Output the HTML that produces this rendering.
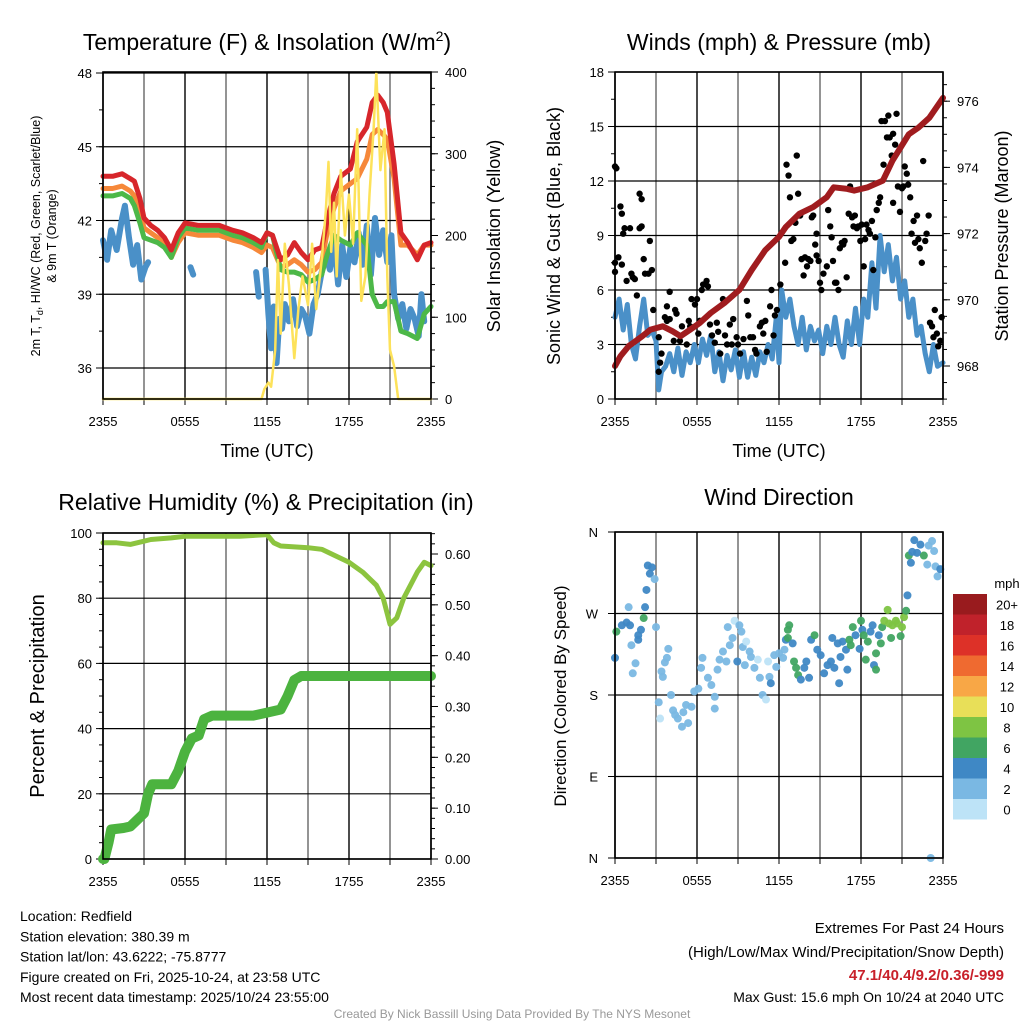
<!DOCTYPE html>
<html><head><meta charset="utf-8"><style>
html,body{margin:0;padding:0;background:#fff;}
svg{display:block;font-family:"Liberation Sans",Arial,sans-serif;}
</style></head><body>
<svg id="fig" width="1024" height="1024" viewBox="0 0 1024 1024" xmlns="http://www.w3.org/2000/svg">
<rect x="0" y="0" width="1024" height="1024" fill="#fff"/>
</svg>
<script>
// ---------------- DATA ----------------
const tempT   = [0,0.7,1.4,2.0,2.3,2.7,3.0,3.5,4.0,4.5,5.0,5.5,6.0,7.0,8.5,9.5,10.2,11.0,11.6,12.0,12.4,13.0,13.5,14.0,14.5,15.0,15.5,16.0,16.4,16.9,17.4,18.1,18.6,19.3,19.7,20.1,20.5,20.8,21.3,21.8,22.3,23.0,23.5,24];
const redT    = [43.8,43.8,43.9,43.7,43.6,42.9,42.1,41.8,41.6,41.3,40.8,41.5,41.9,41.8,41.8,41.6,41.5,41.3,41.1,41.5,41.4,40.4,40.6,41.1,40.7,40.4,40.8,40.9,42.0,43.1,43.8,44.1,45.2,45.8,46.8,47.1,46.8,46.4,44.3,41.5,41.1,40.4,41.0,41.1];
const orangeT = [43.3,43.3,43.4,43.2,43.0,42.4,41.7,41.5,41.3,41.0,40.5,41.1,41.5,41.4,41.4,41.2,41.1,40.9,40.7,41.0,40.9,40.1,40.2,40.4,40.2,39.9,40.0,40.3,41.5,42.5,43.2,43.5,43.7,44.5,45.5,45.7,45.5,45.3,43.7,41.0,41.0,40.6,41.0,41.0];
const greenT  = [43.0,43.0,43.1,42.9,42.6,41.9,41.3,41.2,41.1,40.9,40.5,41.3,41.7,41.6,41.6,41.4,41.3,41.1,40.9,41.5,41.4,40.0,39.9,39.9,39.8,39.5,39.6,39.8,40.6,41.4,41.2,41.0,41.5,41.0,39.0,38.5,38.5,38.7,38.7,37.5,37.4,37.2,38.2,38.5];
const dewT    = [0,0.3,0.6,1.0,1.4,1.6,1.9,2.2,2.5,2.8,3.1,3.3,null,6.4,6.6,null,11.2,11.4,null,11.9,12.1,12.3,12.5,12.7,12.9,13.1,13.3,13.6,13.9,14.2,14.5,14.8,15.1,15.4,15.7,16.0,16.3,16.6,16.9,17.2,17.5,17.8,18.1,18.4,18.7,19.0,19.3,19.6,19.9,20.2,20.5,20.8,21.1,21.3,21.6,21.9,22.2,22.5,22.8,23.1,23.3,23.5];
const dewV    = [41.2,40.4,41.6,40.8,42.1,42.6,41.3,40.2,41.0,39.6,40.1,40.3,null,40.1,39.8,null,39.9,38.9,null,40.0,38.2,36.8,38.5,36.2,38.0,37.6,38.6,37.9,38.8,37.7,38.4,38.1,37.4,38.6,39.0,39.9,40.6,40.0,41.2,39.4,41.0,39.7,40.9,40.3,41.5,40.2,41.8,39.8,42.1,40.6,41.6,40.3,41.4,39.0,38.0,38.6,37.6,38.4,38.0,37.3,39.0,37.9];
const solT    = [0,11.6,11.8,12.1,12.3,12.6,12.8,13.0,13.3,13.6,14.0,14.3,14.6,15.0,15.3,15.6,16.0,16.3,16.5,16.7,16.9,17.1,17.4,17.7,18.0,18.3,18.6,18.9,19.2,19.5,19.8,20.0,20.3,20.6,20.8,21.0,21.3,21.6,24];
const solV    = [0,0,12,20,15,60,170,80,190,140,50,110,150,115,190,110,170,230,290,180,240,150,280,200,250,190,330,120,150,250,330,400,280,330,150,60,40,0,0];
const windT   = [0,0.3,0.6,0.9,1.2,1.5,1.8,2.1,2.4,2.7,3.0,3.2,3.4,3.7,4.0,4.3,4.6,4.9,5.2,5.5,5.8,6.1,6.4,6.7,7.0,7.3,7.6,7.9,8.2,8.5,8.8,9.1,9.4,9.7,10.0,10.3,10.6,10.9,11.2,11.5,11.8,12.0,12.2,12.5,12.8,13.1,13.4,13.7,14.0,14.3,14.6,14.9,15.2,15.5,15.8,16.1,16.4,16.7,17.0,17.3,17.6,17.9,18.2,18.5,18.8,19.1,19.4,19.7,20.0,20.3,20.6,20.9,21.2,21.5,21.8,22.1,22.4,22.7,23.0,23.3,23.6,24];
const windV   = [4.5,5.5,3.8,5.2,3.0,2.2,4.0,5.5,3.5,3.8,3.2,0.5,1.5,1.8,2.5,1.5,2.8,1.3,2.6,2.0,3.0,2.0,3.3,2.4,3.5,1.5,2.6,1.0,2.4,1.6,2.7,1.2,2.6,1.2,2.3,1.3,2.6,2.0,3.0,2.2,4.5,2.0,6.0,4.5,5.5,4.0,3.0,4.5,2.7,4.0,3.2,3.8,2.5,4.0,3.0,4.5,3.0,2.3,4.3,3.0,5.0,3.0,5.5,4.5,7.5,5.0,9.0,7.0,8.5,6.5,7.8,5.5,6.5,4.5,5.5,3.5,4.0,2.5,1.5,3.0,1.8,2.0];
const gustT   = [0,0.1,0,0,0.25,0.4,0.5,0.6,0.7,0.5,0.85,1.1,1.2,1.3,1.45,1.6,1.8,1.95,1.8,1.95,2.1,2.2,2.45,2.55,2.7,2.8,3.3,3.2,3.4,3.2,3.65,3.8,4.0,3.8,4.0,4.4,4.5,4.3,4.75,4.9,5.25,5.4,5.5,5.6,5.85,6.0,6.1,6.2,6.35,6.45,6.7,6.8,6.95,7.1,7.3,7.45,7.55,7.7,7.9,8.05,8.2,8.4,8.55,8.65,8.9,9.0,9.15,9.4,9.65,9.75,9.9,10.1,10.25,10.35,10.6,10.75,10.85,11.0,11.1,11.35,11.45,11.6,11.7,11.85,12.1,12.45,12.55,12.7,12.8,12.9,13.05,13.2,13.3,13.4,13.55,13.65,13.8,13.9,14.05,14.15,14.3,14.4,14.5,14.65,14.75,14.75,14.9,15.0,15.1,15.25,15.5,15.6,15.75,15.85,15.95,16.1,16.2,16.35,16.45,16.6,16.7,16.8,16.95,17.1,17.2,17.35,17.45,17.55,17.7,17.8,17.95,18.05,18.2,18.3,18.4,18.55,18.65,18.8,18.9,19.05,19.15,19.3,19.4,19.5,19.65,19.75,19.9,20.0,20.1,20.25,20.35,20.5,20.6,20.35,20.7,20.85,21.0,21.1,21.2,21.35,21.45,21.6,21.7,21.85,21.95,22.1,22.2,22.3,22.45,22.55,22.7,22.8,22.95,23.05,23.2,23.3,23.4,23.55,23.65,23.8,23.9];
const gustV   = [12.8,12.7,7.5,7.0,7.8,10.6,10.2,9.1,9.4,7.4,6.5,9.4,6.9,6.7,6.6,5.7,11.3,11.0,9.4,9.5,7.7,6.9,6.9,8.7,7.1,4.9,2.0,1.5,2.5,3.4,4.5,5.1,5.9,4.3,4.4,4.9,4.7,3.2,3.2,4.0,3.0,4.3,4.0,5.5,5.2,5.5,3.6,4.3,6.0,6.3,6.5,6.2,4.1,3.5,3.1,4.2,3.7,2.5,5.5,3.5,3.0,4.1,3.0,4.4,3.4,3.0,2.5,3.3,5.4,4.6,3.4,3.4,2.7,2.5,4.0,4.2,3.6,4.3,2.6,5.1,6.0,3.5,4.6,4.9,6.3,7.5,12.9,12.3,11.1,8.7,8.8,9.7,13.4,11.3,10.1,7.7,6.8,7.8,7.3,7.7,7.6,10.0,10.1,8.5,7.9,9.1,7.6,6.4,6.0,6.9,7.3,10.4,9.5,8.9,7.6,6.4,6.4,6.0,8.3,8.6,8.5,8.7,6.7,10.2,11.7,10.0,9.5,10.1,9.4,9.5,8.7,9.6,7.3,8.8,9.6,9.3,9.1,9.8,7.1,8.9,10.4,10.8,11.1,15.3,12.9,15.3,14.4,15.6,14.4,13.4,14.6,14.0,15.7,10.8,11.7,10.3,11.6,11.7,12.8,12.4,11.8,11.1,9.1,9.8,8.6,10.1,8.8,8.3,7.5,13.1,8.7,9.1,10.1,4.2,4.0,3.4,4.9,3.6,2.9,3.2,4.5];
const presT   = [0,0.4,1.0,2.0,2.6,3.5,4.2,4.8,5.5,6.2,7.0,8.0,9.1,10.0,11.0,12.0,12.5,13.5,14.5,15.5,16.0,17.0,17.5,18.5,19.6,20.3,20.9,21.5,22.2,23.0,24];
const presV   = [968.0,968.3,968.6,968.9,969.1,969.2,969.05,968.9,969.1,969.3,969.6,969.9,970.3,970.9,971.5,971.9,972.2,972.6,972.8,973.1,973.4,973.35,973.3,973.4,973.6,974.2,974.6,975.0,975.2,975.5,976.1];
const rhT     = [0,1,2,3,3.5,5,6,8,10,12,12.5,13,15,16,17,18,19,20,20.5,21,21.5,22,23,23.5,24];
const rhV     = [97,97,96.5,97.5,98,98.5,99,99,99,99.5,97,96,95.5,95,93,91,88,84,80,72,74,80,88,91,90];
const prT     = [0,0.1,0.4,0.6,1.5,2.0,2.5,3.0,3.3,3.6,5.0,5.5,6.0,6.5,7.0,7.4,8.0,11.0,12.0,13.0,13.5,14.0,14.5,24];
const prV     = [0,0,0.032,0.058,0.061,0.064,0.077,0.09,0.128,0.147,0.147,0.173,0.211,0.237,0.243,0.275,0.282,0.282,0.288,0.294,0.32,0.352,0.36,0.36];
const dirT    = [0,0.1,0.5,0.85,1.1,1.0,1.2,1.3,1.5,1.7,1.7,1.9,2.1,2.2,2.3,2.4,2.55,2.7,2.9,3.0,3.2,3.3,3.4,3.5,3.65,3.9,3.8,4.1,4.25,4.4,4.6,4.9,5.0,5.2,5.35,5.6,5.8,6.1,6.3,6.4,6.8,7.05,7.3,7.3,7.5,7.65,7.9,8.15,8.4,8.25,8.6,8.75,8.95,9.1,9.25,9.35,9.6,9.5,9.85,9.95,10.2,10.45,10.6,10.8,11.05,11.2,11.3,11.4,11.65,11.8,12.0,12.3,12.4,12.5,12.65,12.75,12.65,13.0,13.1,13.25,13.4,13.6,13.85,14.0,14.2,14.35,14.6,14.8,15.05,15.3,15.55,15.8,15.9,16.05,16.3,16.4,16.5,16.65,16.9,17.0,17.15,17.25,17.4,17.6,17.9,18.0,18.1,18.2,18.35,18.5,18.7,18.85,18.95,19.1,19.1,19.3,19.45,19.55,19.7,19.95,20.05,20.2,20.3,20.55,20.65,20.9,21.0,21.15,21.3,21.4,21.5,21.65,21.75,21.9,22.1,22.35,22.6,22.85,22.95,23.2,23.35,23.45,23.6,23.8,23.1];
const dirDeg  = [221,250,257,260,257,277,235,204,215,246,241,252,265,277,296,323,314,321,308,255,172,154,206,200,216,231,221,180,163,158,154,145,161,169,149,167,184,187,210,221,199,191,178,165,208,219,228,217,235,255,243,262,217,257,250,233,239,213,228,222,210,219,199,180,175,217,200,193,224,211,226,221,230,241,252,257,243,237,217,210,202,197,210,217,199,241,246,230,224,204,213,217,243,210,237,193,222,239,230,208,241,235,255,246,231,262,252,246,219,239,250,257,213,226,208,246,237,255,262,274,259,243,257,262,259,245,255,266,273,290,334,326,338,351,337,346,334,324,345,350,339,322,311,319,0];
const dirSpd  = [4,6,4,4,4,2,2,2,2,4,4,4,6,4,4,4,4,4,2,2,2,1,2,2,2,2,2,2,2,2,2,2,2,2,2,2,2,2,2,2,2,2,2,2,2,2,2,2,2,2,2,1,4,2,2,2,1,2,2,2,2,1,2,2,1,1,2,4,2,2,2,2,2,4,6,6,6,4,6,6,6,4,4,4,4,4,6,4,4,4,4,4,4,4,4,4,4,4,4,4,6,6,6,4,4,6,4,6,6,6,4,4,4,6,6,4,6,6,8,8,8,6,8,8,8,6,8,8,6,4,6,4,4,4,4,4,6,2,2,2,2,2,2,4,2];
const xTickLabels = ["2355","0555","1155","1755","2355"];
const tempTicks = [36,39,42,45,48];
const solTicks = [0,100,200,300,400];
const windTicks = [0,3,6,9,12,15,18];
const presTicks = [968,970,972,974,976];
const rhTicks = [0,20,40,60,80,100];
const prTicks = [0,0.1,0.2,0.3,0.4,0.5,0.6];
const dirTicks = ["N","E","S","W","N"];
const cbLabels = ["0","2","4","6","8","10","12","14","16","18","20+"];
const cbColors = ["#bde3f7","#7ab8e3","#3f88c5","#41a562","#7ec443","#e8df58","#f8a746","#ef6a30","#dd3128","#c0222b","#991b1e"];

// ---------------- HELPERS ----------------
const svg = document.getElementById('fig');
const NS = 'http://www.w3.org/2000/svg';
function mk(tag, attrs, parent){ const e=document.createElementNS(NS,tag); for(const k in attrs) e.setAttribute(k,attrs[k]); (parent||svg).appendChild(e); return e; }
function txt(s, attrs, parent){ const e=mk('text',attrs,parent); e.textContent=s; return e; }
function lin(d0,d1,r0,r1){ return v => r0 + (v-d0)/(d1-d0)*(r1-r0); }
function pathFrom(xs, ys, sx, sy){ let d='', pen=false; for(let i=0;i<xs.length;i++){ if(xs[i]===null||ys[i]===null){pen=false;continue;} d+=(pen?'L':'M')+sx(xs[i]).toFixed(1)+','+sy(ys[i]).toFixed(1); pen=true; } return d; }

function frame(P, name){
  const g = mk('g',{});
  
  
  // vertical grid every 3 h
  for(let h=0; h<=24; h+=3){
    const x=P.sx(h);
    const l=mk('line',{x1:x,y1:P.y0,x2:x,y2:P.y1,stroke:(h%6===0?'#000':'#666'),'stroke-width':1.4},g);
    
    
    mk('line',{x1:x,y1:P.y1,x2:x,y2:P.y1+6,stroke:'#000','stroke-width':1},g);
  }
  xTickLabels.forEach((s,i)=>{
    const t=txt(s,{x:P.sx(i*6),y:P.y1+27,'font-size':13,'text-anchor':'middle',fill:'#000'},g);
    
    
  });
  return g;
}
function border(P){ mk('rect',{x:P.x0,y:P.y0,width:P.x1-P.x0,height:P.y1-P.y0,fill:'none',stroke:'#000','stroke-width':1.6}); }
function leftAxis(P, ticks, sy, fmt, grid, minorStep, lo, hi){
  const g=mk('g',{});
  
  
  if(minorStep){ for(let v=lo; v<=hi+1e-9; v+=minorStep){ const y=sy(v); if(y<P.y0-0.5||y>P.y1+0.5) continue; mk('line',{x1:P.x0-4,y1:y,x2:P.x0,y2:y,stroke:'#000','stroke-width':1},g);} }
  ticks.forEach(v=>{
    const y=sy(v);
    if(grid) mk('line',{x1:P.x0,y1:y,x2:P.x1,y2:y,stroke:'#000','stroke-width':1.2},g);
    mk('line',{x1:P.x0-7,y1:y,x2:P.x0,y2:y,stroke:'#000','stroke-width':1},g);
    const t=txt(fmt(v),{x:P.x0-11,y:y+5,'font-size':13,'text-anchor':'end'},g);
    
    
  });
}
function rightAxis(P, ticks, sy, fmt, minorStep, lo, hi){
  const g=mk('g',{});
  
  
  if(minorStep){ for(let v=lo; v<=hi+1e-9; v+=minorStep){ const y=sy(v); if(y<P.y0-0.5||y>P.y1+0.5) continue; mk('line',{x1:P.x1,y1:y,x2:P.x1+4,y2:y,stroke:'#000','stroke-width':1},g);} }
  ticks.forEach(v=>{
    const y=sy(v);
    mk('line',{x1:P.x1,y1:y,x2:P.x1+7,y2:y,stroke:'#000','stroke-width':1},g);
    const t=txt(fmt(v),{x:P.x1+14,y:y+5,'font-size':13,'text-anchor':'start'},g);
    
    
  });
}
function line(xs,ys,sx,sy,color,w,name){
  const p=mk('path',{d:pathFrom(xs,ys,sx,sy),fill:'none',stroke:color,'stroke-width':w,'stroke-linejoin':'round','stroke-linecap':'round'});
  
  
  return p;
}
function vlabel(s,x,y,size,name){
  const t=txt(s,{x:x,y:y,'font-size':size,'text-anchor':'middle',transform:'rotate(-90 '+x+' '+y+')'});
  
  
  return t;
}
function title(s,x,y,name){
  const t=txt(s,{x:x,y:y,'font-size':23,'text-anchor':'middle'});
  
  
  return t;
}

// ---------------- PANEL 1: Temperature ----------------
const P1={x0:103,x1:431,y0:72,y1:399}; P1.sx=lin(0,24,P1.x0,P1.x1);
const sT=lin(36,48,368,73), sSol=lin(0,400,399,72);
frame(P1,'temperature');
leftAxis(P1,tempTicks,sT,v=>String(v),true,1.5,34.5,48);
rightAxis(P1,solTicks,sSol,v=>String(v),20,0,400);
line(dewT,dewV,P1.sx,sT,'#4a90c8',6,'dewpoint-line');
line(tempT,orangeT,P1.sx,sT,'#f6883a',5,'9m-temperature-line');
line(tempT,greenT,P1.sx,sT,'#4db848',5,'hi-wc-line');
line(tempT,redT,P1.sx,sT,'#d7262b',5,'2m-temperature-line');
line(solT,solV,P1.sx,sSol,'#fde25a',2.5,'solar-insolation-line');
border(P1);
{ const t=title('',267,50,'temperature-title'); t.innerHTML='Temperature (F) &amp; Insolation (W/m<tspan font-size="14" dy="-9">2</tspan><tspan dy="9">)</tspan>'; }
{ const x=40,y=236; const t=txt('',{x:x,y:y,'font-size':12.5,'text-anchor':'middle',transform:'rotate(-90 '+x+' '+y+')'}); t.innerHTML='2m T, T<tspan font-size="9" dy="3">d</tspan><tspan dy="-3">, HI/WC (Red, Green, Scarlet/Blue)</tspan>';
  
   }
vlabel('& 9m T (Orange)',56,236,12.5,'temperature-y-axis-title-line2');
vlabel('Solar Insolation (Yellow)',500,236,18,'solar-y-axis-title');
{ const t=txt('Time (UTC)',{x:267,y:457,'font-size':18,'text-anchor':'middle'});   }

// ---------------- PANEL 2: Winds & Pressure ----------------
const P2={x0:615,x1:943,y0:72,y1:399}; P2.sx=lin(0,24,P2.x0,P2.x1);
const sW=lin(0,18,399,72), sP=lin(968,976,366,101.2);
frame(P2,'winds');
leftAxis(P2,windTicks,sW,v=>String(v),true,1.5,0,18);
rightAxis(P2,presTicks,sP,v=>String(v),0.5,967,977);
line(windT,windV,P2.sx,sW,'#4a90c8',5,'sonic-wind-line');
{ const g=mk('g',{});  
  gustT.forEach((t,i)=>{ const c=mk('circle',{cx:P2.sx(t),cy:sW(gustV[i]),r:3.2,fill:'#000'},g);
    
     }); }
line(presT,presV,P2.sx,sP,'#a01c1f',6,'pressure-line');
border(P2);
title('Winds (mph) & Pressure (mb)',779,50,'winds-title');
vlabel('Sonic Wind & Gust (Blue, Black)',560,236,18,'wind-y-axis-title');
vlabel('Station Pressure (Maroon)',1008,236,18,'pressure-y-axis-title');
{ const t=txt('Time (UTC)',{x:779,y:457,'font-size':18,'text-anchor':'middle'});   }

// ---------------- PANEL 3: RH & Precip ----------------
const P3={x0:103,x1:431,y0:533,y1:859}; P3.sx=lin(0,24,P3.x0,P3.x1);
const sRH=lin(0,100,859,533), sPr=lin(0,0.6,859,554);
frame(P3,'humidity');
leftAxis(P3,rhTicks,sRH,v=>String(v),true,5,0,100);
rightAxis(P3,prTicks,sPr,v=>v.toFixed(2),0.02,0,0.64);
line(prT,prV,P3.sx,sPr,'#4cb33f',10,'precipitation-line');
line(rhT,rhV,P3.sx,sRH,'#8cc43f',5,'relative-humidity-line');
border(P3);
title('Relative Humidity (%) & Precipitation (in)',266,510,'humidity-title');
vlabel('Percent & Precipitation',44,696,20,'humidity-y-axis-title');

// ---------------- PANEL 4: Wind Direction ----------------
const P4={x0:615,x1:943,y0:532,y1:858}; P4.sx=lin(0,24,P4.x0,P4.x1);
const sD=lin(0,360,858,532);
frame(P4,'wind-direction');
{ const g=mk('g',{});  
  dirTicks.forEach((s,i)=>{ const y=sD(i*90);
    mk('line',{x1:P4.x0,y1:y,x2:P4.x1,y2:y,stroke:'#000','stroke-width':1.2},g);
    mk('line',{x1:P4.x0-7,y1:y,x2:P4.x0,y2:y,stroke:'#000','stroke-width':1},g);
    const t=txt(s,{x:P4.x0-17,y:y+5,'font-size':13,'text-anchor':'end'},g);
    
     }); }
{ const g=mk('g',{});  
  dirT.forEach((t,i)=>{ const b=Math.min(10,Math.floor(dirSpd[i]/2));
    const c=mk('circle',{cx:P4.sx(t),cy:sD(dirDeg[i]),r:4,fill:cbColors[b],'fill-opacity':0.95},g);
    
     }); }
border(P4);
title('Wind Direction',779,505,'wind-direction-title');
vlabel('Direction (Colored By Speed)',566,696,17,'direction-y-axis-title');
// colorbar
{ const g=mk('g',{});  
  const top=594, h=20.5;
  cbColors.forEach((c,i)=>{ const y=top+(10-i)*h;
    const r=mk('rect',{x:953,y:y,width:34,height:h,fill:c},g);
    
    
    const t=txt(cbLabels[i],{x:1007,y:y+h/2+5,'font-size':13,'text-anchor':'middle'},g);
    
     });
  const u=txt('mph',{x:1007,y:588,'font-size':13,'text-anchor':'middle'},g);
  
   }

// ---------------- FOOTER TEXT ----------------
const infoL=["Location: Redfield","Station elevation: 380.39 m","Station lat/lon: 43.6222; -75.8777","Figure created on Fri, 2025-10-24, at 23:58 UTC","Most recent data timestamp: 2025/10/24 23:55:00"];
infoL.forEach((s,i)=>{ const t=txt(s,{x:20,y:921+i*20.3,'font-size':14});   });
{ let t=txt('Extremes For Past 24 Hours',{x:1004,y:933,'font-size':15,'text-anchor':'end'});  
  t=txt('(High/Low/Max Wind/Precipitation/Snow Depth)',{x:1004,y:957,'font-size':15,'text-anchor':'end'});  
  t=txt('47.1/40.4/9.2/0.36/-999',{x:1004,y:980,'font-size':15,'font-weight':'bold',fill:'#c8202a','text-anchor':'end'});  
  t=txt('Max Gust: 15.6 mph On 10/24 at 2040 UTC',{x:1004,y:1002,'font-size':14,'text-anchor':'end'});  
  t=txt('Created By Nick Bassill Using Data Provided By The NYS Mesonet',{x:512,y:1018,'font-size':12,fill:'#999','text-anchor':'middle'});   }
</script>
</body></html>
